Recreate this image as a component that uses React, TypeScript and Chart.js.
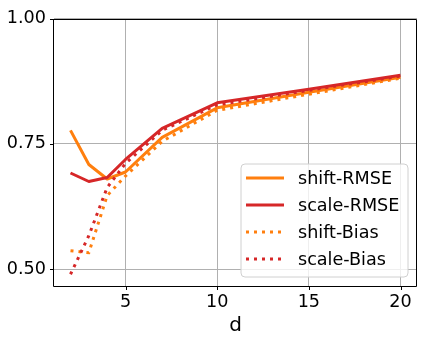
import React, { useEffect, useRef } from "react";
import { Chart, registerables } from "chart.js";

Chart.register(...registerables);

// ---- data ----
const dValues = [2, 3, 4, 5, 7, 10, 15, 20];
const shiftRMSE = [0.777, 0.709, 0.680, 0.694, 0.763, 0.822, 0.853, 0.883];
const scaleRMSE = [0.692, 0.675, 0.683, 0.719, 0.781, 0.832, 0.859, 0.887];
const shiftBias = [0.537, 0.533, 0.647, 0.686, 0.755, 0.817, 0.849, 0.881];
const scaleBias = [0.490, 0.567, 0.663, 0.711, 0.777, 0.828, 0.857, 0.885];
const seriesLabels = ["shift-RMSE", "scale-RMSE", "shift-Bias", "scale-Bias"];
const xTicks = [5, 10, 15, 20];
const yTicks = [0.5, 0.75, 1.0];
const xLabel = "d";

const ORANGE = "#ff7f0e";
const RED = "#d62728";
const FONT = "'DejaVu Sans', sans-serif";

const framePlugin = {
  id: "frame",
  afterDatasetsDraw(chart: any) {
    const { ctx, chartArea } = chart;
    const { left, right, top, bottom } = chartArea;
    ctx.save();
    ctx.strokeStyle = "#000";
    ctx.lineWidth = 1;
    ctx.beginPath();
    ctx.rect(Math.round(left) - 0.5, Math.round(top) + 0.5, Math.round(right - left), Math.round(bottom - top));
    ctx.stroke();
    const xs = chart.scales.x;
    const ys = chart.scales.y;
    ctx.beginPath();
    for (const t of xTicks) {
      const px = Math.round(xs.getPixelForValue(t)) + 0.5;
      ctx.moveTo(px, bottom);
      ctx.lineTo(px, bottom + 4);
    }
    for (const t of yTicks) {
      const py = Math.round(ys.getPixelForValue(t)) + 0.5;
      ctx.moveTo(left, py);
      ctx.lineTo(left - 4, py);
    }
    ctx.stroke();
    ctx.restore();
  },
};

const legendPlugin = {
  id: "boxLegend",
  afterDraw(chart: any) {
    const { ctx, chartArea } = chart;
    const w = 167;
    const h = 113;
    const x0 = chartArea.right - 9 - w;
    const y0 = chartArea.bottom - 9 - h;
    ctx.save();
    const r = 4;
    ctx.beginPath();
    ctx.moveTo(x0 + r, y0);
    ctx.lineTo(x0 + w - r, y0);
    ctx.quadraticCurveTo(x0 + w, y0, x0 + w, y0 + r);
    ctx.lineTo(x0 + w, y0 + h - r);
    ctx.quadraticCurveTo(x0 + w, y0 + h, x0 + w - r, y0 + h);
    ctx.lineTo(x0 + r, y0 + h);
    ctx.quadraticCurveTo(x0, y0 + h, x0, y0 + h - r);
    ctx.lineTo(x0, y0 + r);
    ctx.quadraticCurveTo(x0, y0, x0 + r, y0);
    ctx.closePath();
    ctx.fillStyle = "rgba(255,255,255,0.8)";
    ctx.fill();
    ctx.strokeStyle = "#d0d0d0";
    ctx.lineWidth = 1;
    ctx.stroke();

    chart.data.datasets.forEach((ds: any, i: number) => {
      const yy = y0 + 14 + i * 27;
      ctx.beginPath();
      ctx.strokeStyle = ds.borderColor;
      ctx.lineWidth = 3;
      ctx.setLineDash(ds.borderDash || []);
      ctx.lineCap = "butt";
      ctx.moveTo(x0 + 5, yy);
      ctx.lineTo(x0 + 43, yy);
      ctx.stroke();
      ctx.setLineDash([]);
      ctx.fillStyle = "#000";
      ctx.font = `17.6px ${FONT}`;
      ctx.textBaseline = "middle";
      ctx.textAlign = "left";
      ctx.fillText(ds.label, x0 + 57, yy + 1);
    });
    ctx.restore();
  },
};

export default function App() {
  const ref = useRef<HTMLCanvasElement | null>(null);

  useEffect(() => {
    document.body.style.margin = "0";
    const canvas = ref.current!;
    const mk = (vals: number[]) => dValues.map((d, i) => ({ x: d, y: vals[i] }));
    const chart = new Chart(canvas, {
      type: "line",
      data: {
        datasets: [
          { label: seriesLabels[0], data: mk(shiftRMSE), borderColor: ORANGE, borderWidth: 3, borderJoinStyle: "round", order: 4 },
          { label: seriesLabels[1], data: mk(scaleRMSE), borderColor: RED, borderWidth: 3, borderJoinStyle: "round", order: 3 },
          { label: seriesLabels[2], data: mk(shiftBias), borderColor: ORANGE, borderWidth: 3, borderDash: [3, 5], borderCapStyle: "butt", order: 2 },
          { label: seriesLabels[3], data: mk(scaleBias), borderColor: RED, borderWidth: 3, borderDash: [3, 5], borderCapStyle: "butt", order: 1 },
        ] as any,
      },
      options: {
        responsive: false,
        animation: false,
        events: [],
        elements: { point: { radius: 0 }, line: { tension: 0, fill: false } },
        layout: { padding: { top: 14, right: 7, left: 0, bottom: 0 } },
        plugins: { legend: { display: false }, tooltip: { enabled: false } },
        scales: {
          x: {
            type: "linear",
            min: 1.1,
            max: 20.9,
            afterBuildTicks: (s: any) => {
              s.ticks = xTicks.map((v) => ({ value: v }));
            },
            afterFit: (s: any) => {
              s.height = 55;
            },
            ticks: {
              color: "#000",
              font: { family: FONT, size: 17.6 },
              padding: 6,
              maxRotation: 0,
              callback: (v: any) => String(v),
            },
            grid: { color: "#b0b0b0", lineWidth: 1, drawTicks: false },
            border: { display: false },
            title: {
              display: true,
              text: xLabel,
              color: "#000",
              font: { family: FONT, size: 20 },
              padding: { top: 0, bottom: 3 },
            },
          },
          y: {
            type: "linear",
            min: 0.4666,
            max: 1.0,
            afterBuildTicks: (s: any) => {
              s.ticks = yTicks.map((v) => ({ value: v }));
            },
            afterFit: (s: any) => {
              s.width = 54;
            },
            ticks: {
              color: "#000",
              font: { family: FONT, size: 17.6 },
              padding: 8,
              callback: (v: any) => Number(v).toFixed(2),
            },
            grid: { color: "#b0b0b0", lineWidth: 1, drawTicks: false },
            border: { display: false },
          },
        },
      } as any,
      plugins: [framePlugin, legendPlugin],
    });
    return () => chart.destroy();
  }, []);

  return (
    <div style={{ position: "absolute", left: 0, top: 0, width: 424, height: 341, background: "#fff" }}>
      <canvas ref={ref} width={424} height={341} style={{ width: 424, height: 341, display: "block" }} />
    </div>
  );
}
